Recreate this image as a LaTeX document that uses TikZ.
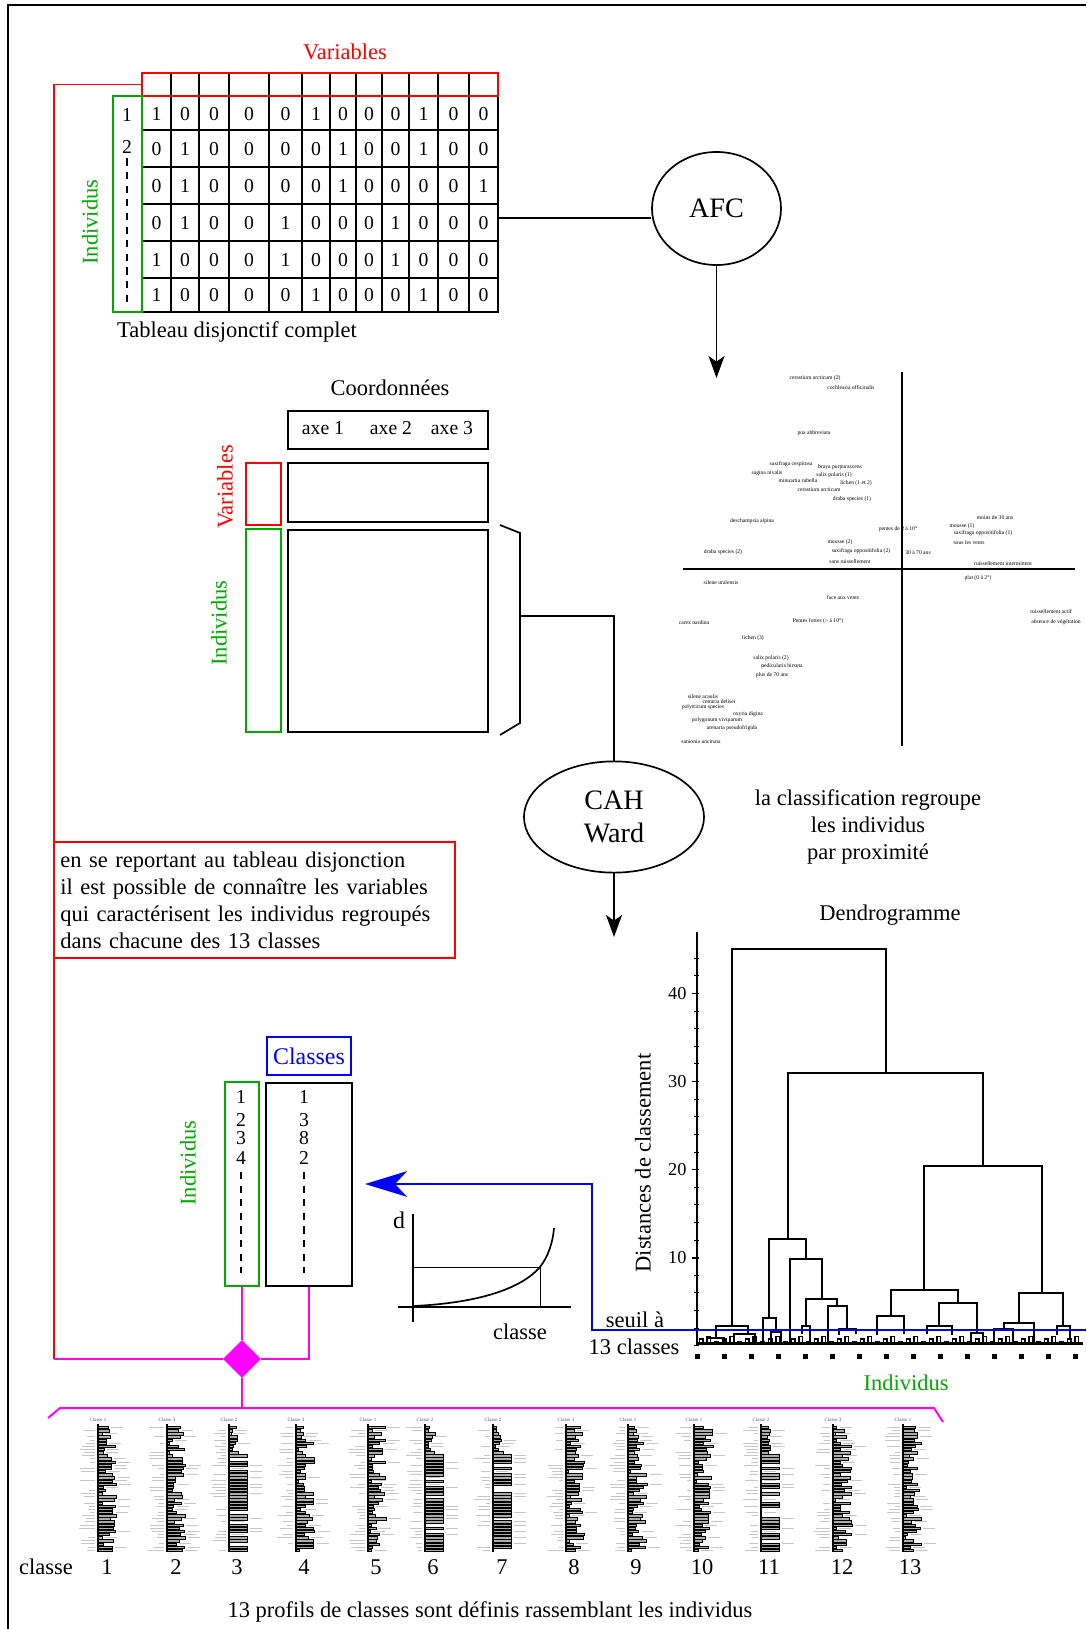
\documentclass[tikz,border=0pt]{standalone}
\usepackage{fontspec}
\setmainfont{Liberation Serif}
\usetikzlibrary{arrows.meta,calc,positioning,shapes.geometric}
\definecolor{varred}{HTML}{FF0000}
\definecolor{indgreen}{HTML}{00A800}
\definecolor{clsblue}{HTML}{0000FF}
\definecolor{linkpink}{HTML}{FF00FF}
\tikzset{
  txtbig/.style={font=\fontsize{16}{19.2}\selectfont},
  txtmid/.style={font=\fontsize{14}{16}\selectfont},
  txttiny/.style={font=\fontsize{4}{5}\selectfont,inner sep=0pt},
  cellbox/.style={draw,line width=1.2pt,inner sep=0pt},
  arr/.style={-{Stealth[length=5.5mm,width=4mm,inset=1.4mm]},line width=1.2pt},
}

\begin{document}
\begin{tikzpicture}[x=0.025cm,y=-0.025cm]
  \useasboundingbox (0,0) rectangle (1086,1629);
  \draw[line width=1.4pt] (8,1629) -- (8,5) -- (1086,5);

  % tableau disjonctif complet
  \node[txtbig,text=varred] (vartitle) at (345,52) {Variables};
  \foreach \x in {171,199,229,269,302,330,356,382,409,438,469}{\draw[line width=0.8pt] (\x,73)--(\x,312);}
  \foreach \y in {130,167,204,241,278}{\draw[line width=1.4pt] (142,\y)--(498,\y);}
  \draw[line width=1.4pt] (142,96) rectangle (498,312);
  \node[draw=varred,line width=1.6pt,inner sep=0pt,minimum width=8.9cm,minimum height=0.575cm] (varhead) at (320,84.5) {};
  \node[draw=indgreen,line width=1.4pt,inner sep=0pt,minimum width=0.725cm,minimum height=5.4cm] (indhead) at (127.5,204) {};
  \def\colc{{156.5,185,214,249,285.5,316,343,369,395.5,423.5,453.5,483.5}}
  \def\rowc{{114,149,186,223,260,295}}
  \foreach \row [count=\r] in {{1,0,0,0,0,1,0,0,0,1,0,0},{0,1,0,0,0,0,1,0,0,1,0,0},{0,1,0,0,0,0,1,0,0,0,0,1},
      {0,1,0,0,1,0,0,0,1,0,0,0},{1,0,0,0,1,0,0,0,1,0,0,0},{1,0,0,0,0,1,0,0,0,1,0,0}}{
    \pgfmathsetmacro\yc{\rowc[\r-1]}
    \foreach \v [count=\c] in \row{
      \pgfmathsetmacro\xc{\colc[\c-1]}
      \node[txtmid] (d\r-\c) at (\xc,\yc) {\v};
    }
  }
  \node[txtmid] (row1) at (127,115) {1};
  \node[txtmid] (row2) at (127,147) {2};
  \draw[line width=1.4pt,dash pattern=on 1.8mm off 1.6mm] (row2.south) -- (127,305);
  \node[txtbig,rotate=90,text=indgreen] (indlab1) at (90,222) {Individus};
  \node[txtbig] (tablab) at (237,332) {Tableau disjonctif complet};

  % AFC
  \node[draw,ellipse,line width=1.2pt,minimum width=3.225cm,minimum height=2.825cm,font=\fontsize{20}{24}\selectfont] (afc) at (716.5,208.5) {AFC};
  \coordinate (tabR) at (498,218);
  \draw[line width=1.2pt] (tabR) -- (tabR -| afc.west);
  \coordinate (plottop) at (716.5,378);
  \draw[arr] (afc.south) -- (plottop);

  % plan factoriel
  \draw[line width=0.9pt] (902,372) -- (902,746);
  \draw[line width=0.9pt] (683,569) -- (1075,569);
  \foreach \x/\y/\t [count=\k] in {815/378/cerastium arcticum (2),851/388/cochlearia officinalis,814/433/poa abbreviata,
      791/464/saxifraga cespitosa,840/467/braya purpurascens,767/473/sagina nivalis,834/475/salix polaris (1),
      798/481/minuartia rubella,856/483/lichen (1 et 2),819/490/cerastium arcticum,852/499/draba species (1),
      752/521/deschampsia alpina,995/518/moins de 30 ans,962/526/mousse (1),898/529/pentes de 2 à 10°,
      983/533/saxifraga oppositifolia (1),840/542/mousse (2),969/543/sous les vents,723/552/draba species (2),
      861/551/saxifraga oppositifolia (2),918/553/30 à 70 ans,850/562/sans ruissellement,
      1003/564/ruissellement intermittent,978/578/plat (0 à 2°),721/583/silene uralensis,843/598/face aux vents,
      1051/612/ruissellement actif,694/623/carex nardina,818/621/Pentes fortes (> à 10°),1056/622/absence de végétation,
      753/638/lichen (3),771/658/salix polaris (2),782/666/pedicularis hirsuta,772/675/plus de 70 ans,
      703/697/silene acaulis,719/702/cetraria delisei,703/707/polytricum species,748/714/oxyria digina,
      717/720/polygonum viviparum,732/728/arenaria pseudofrigida,701/742/sanionia uncinata}{
    \node[txttiny] (lab\k) at (\x,\y) {\t};
  }

  % coordonnees
  \node[txtbig] (coord) at (390,388) {Coordonnées};
  \node[cellbox,minimum width=5cm,minimum height=0.95cm] (axes) at (388,430) {};
  \node[txtmid] (ax1) at (323,428) {axe 1};
  \node[txtmid] (ax2) at (391,428) {axe 2};
  \node[txtmid] (ax3) at (452,428) {axe 3};
  \node[cellbox,minimum width=5cm,minimum height=1.475cm] (varcoord) at (388,492.5) {};
  \node[draw=varred,line width=1.2pt,inner sep=0pt,minimum width=0.875cm,minimum height=1.55cm] (varside) at (263.5,494) {};
  \node[txtbig,rotate=90,text=varred] (varlab2) at (225,487) {Variables};
  \node[cellbox,minimum width=5cm,minimum height=5.05cm] (indcoord) at (388,631) {};
  \node[draw=indgreen,line width=1.2pt,inner sep=0pt,minimum width=0.875cm,minimum height=5.075cm] (indside) at (263.5,630.5) {};
  \node[txtbig,rotate=90,text=indgreen] (indlab2) at (219,623) {Individus};
  \draw[line width=1.2pt] (500,525) -- (520,533) -- (520,723) -- (500,735);
  \coordinate (brk) at (520,616);

  % CAH
  \node[draw,ellipse,line width=1.2pt,minimum width=4.5cm,minimum height=2.78cm,align=center,font=\fontsize{20}{24}\selectfont] (cah) at (614,817) {CAH\\Ward};
  \draw[line width=1.2pt] (brk) -| (cah.north);
  \coordinate (dendtop) at (614,937);
  \draw[arr] (cah.south) -- (dendtop);
  \node[txtbig,align=center] (proxi) at (868,827) {la classification regroupe\\les individus\\par proximité};

  \node[draw=varred,line width=1pt,minimum width=10.025cm,minimum height=2.9cm,text width=9.7cm,inner xsep=0.16cm,align=left,txtbig] (note) at (254.5,900)
    {en se reportant au tableau disjonction\\il est possible de connaître les variables\\qui caractérisent les individus regroupés\\dans chacune des 13 classes};

  % dendrogramme
  \node[txtbig] (dendlab) at (890,915) {Dendrogramme};
  \node[txtbig,rotate=90] (distlab) at (643,1163) {Distances de classement};
  \begin{scope}[shift={(590,880)},scale=1/3,line width=1.2pt]
    \draw[line width=1.4pt] (320,155) -- (320,1395);
    \foreach \d in {0,2,...,44}{\draw[line width=0.7pt] (313,1397.5-26.43*\d) -- (327,1397.5-26.43*\d);}
    \foreach \d in {10,20,30,40}{
      \draw (306,1397.5-26.43*\d) -- (328,1397.5-26.43*\d);
      \node[anchor=east,font=\fontsize{13}{15}\selectfont] (tick\d) at (306,1397.5-26.43*\d) {\d};
    }
    \foreach \xl/\bl/\xr/\br/\h in {427/1338/887/580/207,595/1077/1180/858/580,1003/1230/1355/1240/858,
        538/1313/648/1137/1077,600/1388/695/1257/1137,648/1338/742/1278/1257,714/1388/770/1348/1278,
        903/1308/1103/1270/1230,862/1365/942/1362/1308,1047/1338/1160/1360/1270,1287/1328/1420/1338/1240,
        1243/1348/1333/1388/1328,1400/1365/1440/1375/1338,378/1375/473/1362/1338,520/1388/558/1355/1313,
        1010/1362/1085/1365/1338,1143/1388/1180/1388/1360,748/1365/797/1362/1348,636/1362/660/1388/1338,
        352/1388/402/1388/1375,432/1388/495/1388/1362,542/1388/572/1388/1355,1213/1388/1270/1388/1348}{
      \draw (\xl,\bl) |- (\xr,\h) -- (\xr,\br);
    }
    \foreach \x [count=\j] in {328,351,...,1470}{
      \pgfmathsetmacro\hb{1390-6-7*mod(\j,3)}
      \draw[line width=0.9pt] (\x,1390) |- (\x+11,\hb) -- (\x+11,1390);
    }
    \draw[line width=2.4pt] (320,1390) -- (1480,1390);
  \end{scope}
  \foreach \x in {697,724,...,1076}{\fill (\x-2.5,1353.5) rectangle +(5,5);}
  \node[txtbig,text=indgreen] (indlab4) at (906,1383) {Individus};
  \node[txtbig] (seuil) at (635,1320) {seuil à};
  \node[txtbig] (seuil2) at (634,1347) {13 classes};

  % seuil et classes
  \coordinate (thr) at (1086,1330);
  \coordinate (clsin) at (365,1184);
  \draw[clsblue,line width=1.4pt,-{Stealth[length=10.5mm,width=6.4mm,inset=3mm]}] (thr) -- (592,1330) |- (clsin);

  \node[draw=clsblue,line width=1.2pt,inner sep=0pt,minimum width=2.1cm,minimum height=0.95cm,text=clsblue,font=\fontsize{17}{20}\selectfont] (clstitle) at (309,1056) {Classes};
  \node[draw=indgreen,line width=1.2pt,inner sep=0pt,minimum width=0.85cm,minimum height=5.1cm] (indbox) at (242,1184) {};
  \node[cellbox,minimum width=2.15cm,minimum height=5.075cm] (clsbox) at (309,1184.5) {};
  \foreach \n/\m/\y [count=\k] in {1/1/1097,2/3/1120,3/8/1138,4/2/1158}{
    \node[txtmid] (ia\k) at (241,\y) {\n};
    \node[txtmid] (ca\k) at (304,\y) {\m};
  }
  \draw[line width=1.4pt,dash pattern=on 1.8mm off 1.6mm] (241,1172) -- (241,1273);
  \draw[line width=1.4pt,dash pattern=on 1.8mm off 1.6mm] (304,1172) -- (304,1273);
  \node[txtbig,rotate=90,text=indgreen] (indlab3) at (188,1163) {Individus};

  % courbe d'agregation
  \draw[line width=1.2pt] (413,1214) -- (413,1322);
  \draw[line width=1.2pt] (398,1307) -- (571,1307);
  \draw[line width=0.6pt] (413,1267) -- (540,1267) -- (540,1307);
  \draw[line width=1.2pt] (413,1306) .. controls (480,1303) and (522,1288) .. (540,1267) .. controls (548,1257) and (553,1242) .. (554,1228);
  \node[font=\fontsize{17}{20}\selectfont] (dlab) at (399,1220) {d};
  \node[txtbig] (clscurve) at (520,1332) {classe};

  % liens
  \node[diamond,fill=linkpink,inner sep=0pt,minimum width=0.95cm,minimum height=0.95cm] (dia) at (242,1359) {};
  \draw[linkpink,line width=1.4pt] (indbox.south) -- (dia.north);
  \draw[linkpink,line width=1.4pt] (clsbox.south) |- (dia.east);
  \draw[varred,line width=1pt] (varhead.west) -| (54,1359) coordinate (redend);
  \draw[linkpink,line width=1.4pt] (redend) -- (dia.west);
  \coordinate (prof) at (242,1408);
  \draw[linkpink,line width=1.4pt] (dia.south) -- (prof);
  \draw[linkpink,line width=1.4pt] (48,1418) -- (60,1408) -- (934,1408) -- (943,1422);

  % profils des 13 classes
  \foreach \ax/\cl/\kind [count=\k] in {98/1/0,167/3/0,229/2/1,296/3/0,368/1/0,425/2/1,493/2/1,566/3/0,628/1/0,694/1/0,761/2/1,833/3/0,903/1/0}{
    \node[font=\fontsize{3.5}{4}\selectfont,inner sep=0pt,text=gray!60!black] (ptitle\k) at (\ax,1420) {Classe \cl};
    \pgfmathtruncatemacro\sd{\k*7+3}
    \pgfmathsetseed{\sd}
    \foreach \i in {0,...,39}{
      \pgfmathsetmacro\yb{1426+3.15*\i}
      \pgfmathsetmacro\barlen{\kind==1 ? (\i<9 ? 2+8*rnd : (rnd<0.25 ? 0 : 18)) : 2+17*rnd}
      \pgfmathsetmacro\lw{4+12*rnd}
      \pgfmathsetmacro\lv{rnd}
      \ifdim\lv pt>0.3pt
        \draw[gray!45,line width=0.45pt] (\ax-3,\yb+1.2) -- (\ax-3-\lw,\yb+1.2);
      \fi
      \ifdim\barlen pt>0.5pt
        \draw[fill=gray!65,line width=0.35pt] (\ax,\yb+0.2) rectangle (\ax+\barlen,\yb+2.6);
      \fi
      \pgfmathsetmacro\rw{rnd}
      \ifdim\rw pt>0.6pt
        \draw[gray!45,line width=0.45pt] (\ax+\barlen+3,\yb+1.2) -- (\ax+\barlen+15,\yb+1.2);
      \fi
    }
    \draw[line width=0.9pt] (\ax,1424) -- (\ax,1552);
  }
  \node[txtbig] (clslab) at (46,1567) {classe};
  \foreach \x [count=\k] in {107,176,237,304,376,433,502,574,636,702,769,842,910}{
    \node[txtbig] (num\k) at (\x,1567) {\k};
  }
  \node[txtbig] (concl) at (490,1612) {13 profils de classes sont définis rassemblant les individus};
\end{tikzpicture}
\end{document}
